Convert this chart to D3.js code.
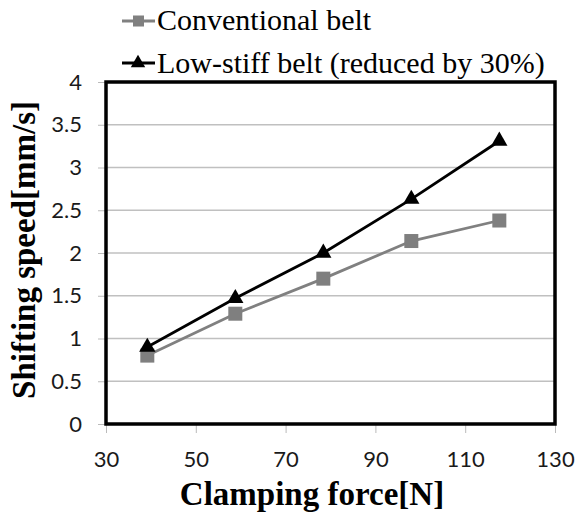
<!DOCTYPE html>
<html><head><meta charset="utf-8">
<script src="https://cdn.jsdelivr.net/npm/d3@7"></script>
<style>body{margin:0;background:#fff}</style>
</head><body><svg id="c" width="575" height="514"></svg>
<script>
const clampForce = [39.2, 58.8, 78.4, 98, 117.6];
const conventional = [0.80, 1.29, 1.70, 2.14, 2.38];
const lowStiff = [0.90, 1.47, 2.00, 2.63, 3.31];
const xTicks = [30, 50, 70, 90, 110, 130];
const yTicks = [0, 0.5, 1, 1.5, 2, 2.5, 3, 3.5, 4];
const seriesNames = ["Conventional belt", "Low-stiff belt (reduced by 30%)"];

const svg = d3.select("#c");
const L = 106, R = 555, T = 82, B = 424;
const x = d3.scaleLinear().domain([30, 130]).range([L, R]);
const y = d3.scaleLinear().domain([0, 4]).range([B, T]);
const tickFont = "Lato, 'Open Sans', sans-serif";
const serif = "'Liberation Serif', 'Times New Roman', serif";

// gridlines
svg.append("g").selectAll("line").data(yTicks.filter(d => d > 0)).join("line")
  .attr("x1", L).attr("x2", R).attr("y1", d => y(d)).attr("y2", d => y(d))
  .attr("stroke", "#c0c0c0").attr("stroke-width", 1.3);

// axes
const xAxis = d3.axisBottom(x).tickValues(xTicks).tickSize(9).tickPadding(18).tickFormat(d3.format("d"));
const gx = svg.append("g").attr("transform", `translate(0,${B})`).call(xAxis);
gx.select(".domain").remove();
gx.selectAll("line").attr("stroke", "#bbb");
gx.selectAll("text").attr("font-family", tickFont).attr("font-size", 22).attr("fill", "#1a1a1a");

const yAxis = d3.axisLeft(y).tickValues(yTicks).tickSize(8).tickPadding(16).tickFormat(d => String(d));
const gy = svg.append("g").attr("transform", `translate(${L},0)`).call(yAxis);
gy.select(".domain").remove();
gy.selectAll("line").attr("stroke", "#bbb");
gy.selectAll("text").attr("font-family", tickFont).attr("font-size", 22).attr("fill", "#1a1a1a");

// plot border
svg.append("rect").attr("x", L).attr("y", T).attr("width", R - L).attr("height", B - T)
  .attr("fill", "none").attr("stroke", "#000").attr("stroke-width", 3.5);

const line = d3.line().x(d => x(d[0])).y(d => y(d[1]));
const convData = clampForce.map((f, i) => [f, conventional[i]]);
const lowData = clampForce.map((f, i) => [f, lowStiff[i]]);

svg.append("path").datum(convData).attr("d", line).attr("fill", "none").attr("stroke", "#808080").attr("stroke-width", 2.8);
svg.append("g").selectAll("rect").data(convData).join("rect")
  .attr("x", d => x(d[0]) - 7).attr("y", d => y(d[1]) - 7).attr("width", 14).attr("height", 14).attr("fill", "#7f7f7f");

svg.append("path").datum(lowData).attr("d", line).attr("fill", "none").attr("stroke", "#000").attr("stroke-width", 2.8);
const tri = d3.symbol().type(d3.symbolTriangle).size(115);
svg.append("g").selectAll("path").data(lowData).join("path")
  .attr("d", tri).attr("transform", d => `translate(${x(d[0])},${y(d[1])})`).attr("fill", "#000");

// legend
const leg = svg.append("g");
const rows = [{y: 21, color: "#808080", sym: "sq", ty: 30}, {y: 63, color: "#000", sym: "tri", ty: 73}];
rows.forEach((r, i) => {
  leg.append("line").attr("x1", 122).attr("x2", 155).attr("y1", r.y).attr("y2", r.y).attr("stroke", r.color).attr("stroke-width", 2.8);
  if (r.sym === "sq") leg.append("rect").attr("x", 133).attr("y", r.y - 5.5).attr("width", 11).attr("height", 11).attr("fill", r.color);
  else leg.append("path").attr("d", d3.symbol().type(d3.symbolTriangle).size(90)).attr("transform", `translate(138,${r.y})`).attr("fill", r.color);
  leg.append("text").attr("x", 157).attr("y", r.ty).text(seriesNames[i])
    .attr("font-family", serif).attr("font-size", 30).attr("fill", "#000");
});

// axis titles
svg.append("text").attr("x", 312).attr("y", 505).attr("text-anchor", "middle").text("Clamping force[N]")
  .attr("font-family", serif).attr("font-weight", "bold").attr("font-size", 33);
svg.append("text").attr("transform", "translate(35,250) rotate(-90)").attr("text-anchor", "middle").text("Shifting speed[mm/s]")
  .attr("font-family", serif).attr("font-weight", "bold").attr("font-size", 33);
</script></body></html>
